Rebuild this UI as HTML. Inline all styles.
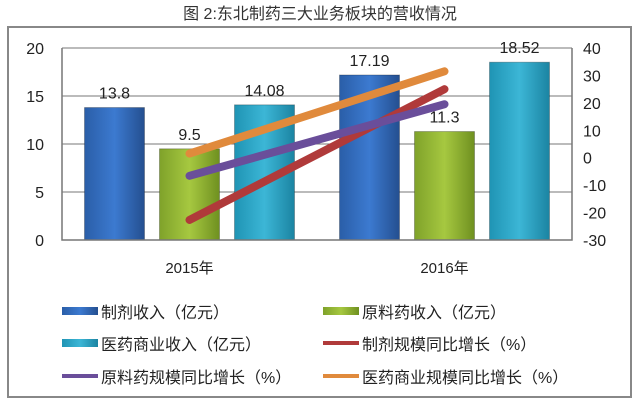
<!DOCTYPE html>
<html><head><meta charset="utf-8"><style>
body{margin:0;background:#fff;width:640px;height:411px;overflow:hidden}
svg{display:block;font-family:"Liberation Sans","Noto Sans CJK SC",sans-serif}
</style></head><body>
<svg id="chart" width="640" height="411">
<defs>
<linearGradient id="gBlue" x1="0" x2="1"><stop offset="0" stop-color="#2a5ea8"/><stop offset="0.5" stop-color="#3c7ad0"/><stop offset="1" stop-color="#244f90"/></linearGradient>
<linearGradient id="gGreen" x1="0" x2="1"><stop offset="0" stop-color="#7fa22a"/><stop offset="0.5" stop-color="#a6c840"/><stop offset="1" stop-color="#6f9020"/></linearGradient>
<linearGradient id="gCyan" x1="0" x2="1"><stop offset="0" stop-color="#1f94b4"/><stop offset="0.5" stop-color="#3cb6d6"/><stop offset="1" stop-color="#1b84a2"/></linearGradient>
</defs>
<text x="320" y="19" text-anchor="middle" font-size="16" fill="#333">图 2:东北制药三大业务板块的营收情况</text>
<rect x="8" y="27" width="623" height="370" fill="none" stroke="#888" stroke-width="2"/>
<g id="grid"></g><g id="bars"></g><g id="lines"></g><g id="axes"></g>
<g font-size="16" fill="#222">
<rect x="62" y="307" width="36" height="8" fill="url(#gBlue)"/>
<text x="101" y="318">制剂收入（亿元）</text>
<rect x="323" y="307" width="36" height="8" fill="url(#gGreen)"/>
<text x="362" y="318">原料药收入（亿元）</text>
<rect x="62" y="339" width="36" height="8" fill="url(#gCyan)"/>
<text x="101" y="350">医药商业收入（亿元）</text>
<rect x="323" y="341" width="36" height="4" fill="#b03a3a"/>
<text x="362" y="350">制剂规模同比增长（%）</text>
<rect x="62" y="374" width="36" height="4" fill="#6a4e9a"/>
<text x="101" y="383">原料药规模同比增长（%）</text>
<rect x="323" y="374" width="36" height="4" fill="#e08a3c"/>
<text x="362" y="383">医药商业规模同比增长（%）</text>
</g>
</svg>
<script>
const categories=["2015年","2016年"];
const formulation=[13.8,17.19];
const api=[9.5,11.3];
const commerce=[14.08,18.52];
const formulationGrowth=[-22.7,25];
const apiGrowth=[-6.6,19.5];
const commerceGrowth=[1.5,31.5];
const leftTicks=[0,5,10,15,20];
const rightTicks=[-30,-20,-10,0,10,20,30,40];

const NS="http://www.w3.org/2000/svg";
const L=62,R=572,T=48,B=240;
const yL=v=>B-(v/20)*(B-T);
const yR=v=>B-((v+30)/70)*(B-T);
const catW=(R-L)/categories.length;
const cx=i=>L+catW*i+catW/2;
function mk(tag,attrs,parent){const e=document.createElementNS(NS,tag);for(const k in attrs)e.setAttribute(k,attrs[k]);document.getElementById(parent).appendChild(e);return e;}

leftTicks.forEach(t=>{
  if(t>0){const g=mk("line",{x1:L,x2:R,y1:yL(t),y2:yL(t),stroke:"#777","stroke-width":1},"grid");
  
  }
  const tx=mk("text",{x:44,y:yL(t)+6,"text-anchor":"end","font-size":16,fill:"#222"},"axes");
  tx.textContent=t;
  
  
});
rightTicks.forEach(t=>{
  const tx=mk("text",{x:583,y:yR(t)+6,"font-size":16,fill:"#222"},"axes");
  tx.textContent=t;
  
  
});
const ax=mk("path",{d:`M${L},${T} V${B} H${R} V${T}`,fill:"none",stroke:"#777","stroke-width":1.5},"axes");


mk("line",{x1:L,x2:R,y1:T,y2:T,stroke:"#777","stroke-width":1},"grid");

const series=[[formulation,"url(#gBlue)","formulation"],[api,"url(#gGreen)","api"],[commerce,"url(#gCyan)","commerce"]];
const bw=60,gap=15;
categories.forEach((c,i)=>{
  series.forEach((s,j)=>{
    const v=s[0][i];const x=cx(i)+(j-1)*(bw+gap)-bw/2;
    const r=mk("rect",{x:x,y:yL(v),width:bw,height:B-yL(v),fill:s[1],stroke:"rgba(0,0,0,0.25)","stroke-width":1},"bars");
    
    
    const lb=mk("text",{x:x+bw/2,y:yL(v)-9,"text-anchor":"middle","font-size":16,fill:"#222"},"bars");
    lb.textContent=v;
    
    
  });
  const ct=mk("text",{x:cx(i),y:273,"text-anchor":"middle","font-size":15,fill:"#222"},"axes");
  ct.textContent=c;
  
  
});
const lines=[[formulationGrowth,"#b03a3a","formulation-growth"],[apiGrowth,"#6a4e9a","api-growth"],[commerceGrowth,"#e08a3c","commerce-growth"]];
lines.forEach(s=>{
  const pts=s[0].map((v,i)=>cx(i)+","+yR(v)).join(" ");
  const p=mk("polyline",{points:pts,fill:"none",stroke:s[1],"stroke-width":8,"stroke-linecap":"round"},"lines");
  
  
});
</script>
</body></html>
